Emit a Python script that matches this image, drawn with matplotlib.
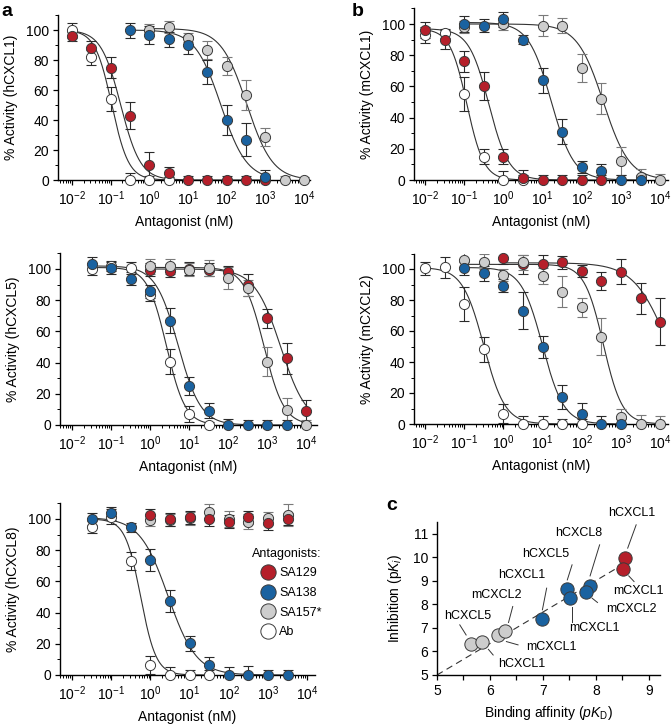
import numpy as np
import matplotlib
matplotlib.use('Agg')
import matplotlib.pyplot as plt
from matplotlib.lines import Line2D
from matplotlib.ticker import LogLocator, LogFormatterSciNotation, NullFormatter, MultipleLocator, FixedLocator

plt.rcParams['font.family'] = ['Liberation Sans', 'DejaVu Sans']
plt.rcParams['mathtext.fontset'] = 'custom'
plt.rcParams['mathtext.rm'] = 'Liberation Sans'
plt.rcParams['mathtext.it'] = 'Liberation Sans:italic'
plt.rcParams['mathtext.bf'] = 'Liberation Sans:bold'

# ---------------- DATA ----------------
antagonists = ['SA129', 'SA138', 'SA157*', 'Ab']

# Panel a (top): hCXCL1  -- log10 concentration (nM), % activity, error
hCXCL1_SA129_logx = [-2, -1.5, -1, -0.5, 0, 0.5, 1, 1.5, 2, 2.5, 3]
hCXCL1_SA129_y = [96, 88, 75, 43, 10, 5, 0, 0, 0, 0, 0]
hCXCL1_SA129_err = [3, 5, 7, 9, 9, 4, 3, 3, 3, 3, 3]
hCXCL1_SA138_logx = [-0.5, 0, 0.5, 1, 1.5, 2, 2.5, 3]
hCXCL1_SA138_y = [100, 97, 94, 90, 72, 40, 27, 2]
hCXCL1_SA138_err = [5, 6, 5, 6, 8, 10, 11, 5]
hCXCL1_SA157_logx = [0, 0.5, 1, 1.5, 2, 2.5, 3, 3.5, 4]
hCXCL1_SA157_y = [100, 102, 95, 87, 76, 57, 29, 0, 0]
hCXCL1_SA157_err = [4, 4, 3, 6, 6, 10, 6, 3, 2]
hCXCL1_Ab_logx = [-2, -1.5, -1, -0.5, 0, 0.5]
hCXCL1_Ab_y = [100, 82, 54, 0, 0, 0]
hCXCL1_Ab_err = [5, 5, 8, 5, 3, 2]
# fitted curve parameters (top, log IC50, Hill slope)
hCXCL1_fit = {'SA129': (100, -0.74, 1.7), 'SA138': (100, 1.85, 1.3),
              'SA157*': (101, 2.52, 1.3), 'Ab': (100, -0.97, 2.0)}

# Panel b (top): mCXCL1
mCXCL1_SA129_logx = [-2, -1.5, -1, -0.5, 0, 0.5, 1, 1.5, 2, 2.5]
mCXCL1_SA129_y = [96, 90, 76, 60, 15, 1.5, 0, 0, 0, 0]
mCXCL1_SA129_err = [5, 6, 7, 9, 5, 5, 3, 3, 3, 3]
mCXCL1_SA138_logx = [-1, -0.5, 0, 0.5, 1, 1.5, 2, 2.5, 3, 3.5]
mCXCL1_SA138_y = [100, 99, 103, 90, 64, 31, 8.5, 6, 0, 0]
mCXCL1_SA138_err = [5, 4, 5, 3, 8, 8, 4, 4, 3, 3]
mCXCL1_SA157_logx = [-1, 0, 1, 1.5, 2, 2.5, 3, 3.5, 4]
mCXCL1_SA157_y = [98, 100, 99, 99, 72, 52, 12, 2, 0]
mCXCL1_SA157_err = [4, 4, 7, 5, 9, 10, 9, 5, 4]
mCXCL1_Ab_logx = [-2, -1.5, -1, -0.5, 0, 0.5]
mCXCL1_Ab_y = [93, 94, 55, 15, 0, 0]
mCXCL1_Ab_err = [5, 3, 11, 5, 6, 3]
mCXCL1_fit = {'SA129': (97, -0.37, 1.7), 'SA138': (101, 1.22, 1.5),
              'SA157*': (100, 2.55, 1.3), 'Ab': (97, -0.93, 2.0)}

# Panel a (middle): hCXCL5
hCXCL5_SA129_logx = [0, 0.5, 1, 1.5, 2, 2.5, 3, 3.5, 4]
hCXCL5_SA129_y = [99.6, 99, 100.2, 99.6, 97.8, 90, 68.5, 42.8, 9.2]
hCXCL5_SA129_err = [4, 4, 4, 4, 4, 7, 6, 10, 7]
hCXCL5_SA138_logx = [-1.5, -1, -0.5, 0, 0.5, 1, 1.5, 2, 2.5, 3, 3.5]
hCXCL5_SA138_y = [103.4, 100.6, 93.8, 85.6, 66.8, 25, 9.2, 0, 0, 0, 0]
hCXCL5_SA138_err = [4, 4, 4, 4, 8, 6, 5, 4, 3, 3, 3]
hCXCL5_SA157_logx = [0, 0.5, 1, 1.5, 2, 2.5, 3, 3.5, 4]
hCXCL5_SA157_y = [101.7, 101.7, 99.6, 100.6, 94.2, 87.8, 40.7, 9.6, 0]
hCXCL5_SA157_err = [5, 5, 4, 5, 7, 5, 9, 8, 3]
hCXCL5_Ab_logx = [-1.5, -1, -0.5, 0, 0.5, 1, 1.5]
hCXCL5_Ab_y = [100, 102, 100.6, 83.5, 40.7, 7, 0]
hCXCL5_Ab_err = [4, 3, 4, 4, 8, 5, 2]
hCXCL5_fit = {'SA129': (100, 3.35, 1.3), 'SA138': (102, 0.72, 1.5),
              'SA157*': (101, 2.92, 1.7), 'Ab': (101, 0.42, 1.8)}

# Panel b (middle): mCXCL2
mCXCL2_SA129_logx = [0, 0.5, 1, 1.5, 2, 2.5, 3, 3.5, 4]
mCXCL2_SA129_y = [107, 103, 103, 104.3, 98.7, 92.3, 98.3, 81, 66]
mCXCL2_SA129_err = [4, 6, 6, 4, 4, 6, 8, 10, 15]
mCXCL2_SA138_logx = [-1, -0.5, 0, 0.5, 1, 1.5, 2, 2.5, 3]
mCXCL2_SA138_y = [100.4, 97.2, 89.3, 73, 49.6, 17.4, 6.7, 0, 0]
mCXCL2_SA138_err = [4, 5, 4, 12, 7, 8, 7, 5, 3]
mCXCL2_SA157_logx = [-1, -0.5, 0, 0.5, 1, 1.5, 2, 2.5, 3, 3.5, 4]
mCXCL2_SA157_y = [106, 104.7, 96, 104.3, 95.5, 85.4, 75.3, 56.4, 4.5, 0, 0]
mCXCL2_SA157_err = [5, 5, 4, 5, 5, 10, 6, 12, 5, 6, 5]
mCXCL2_Ab_logx = [-2, -1.5, -1, -0.5, 0, 0.5, 1, 1.5, 2]
mCXCL2_Ab_y = [100.4, 101, 77.3, 48.3, 6.7, 0, 0, 0, 0]
mCXCL2_Ab_err = [4, 7, 11, 8, 6, 5, 5, 3, 3]
mCXCL2_fit = {'SA129': (104, 4.2, 1.0), 'SA138': (101, 1.0, 1.6),
              'SA157*': (103, 2.55, 1.8), 'Ab': (101, -0.5, 1.6)}

# Panel a (bottom): hCXCL8
hCXCL8_SA129_logx = [0, 0.5, 1, 1.5, 2, 2.5, 3, 3.5]
hCXCL8_SA129_y = [102.6, 99.8, 101, 99.8, 98.3, 101, 97.2, 100]
hCXCL8_SA129_err = [4, 4, 4, 4, 4, 4, 4, 4]
hCXCL8_SA138_logx = [-1.5, -1, -0.5, 0, 0.5, 1, 1.5, 2, 2.5, 3, 3.5]
hCXCL8_SA138_y = [100, 103.6, 94.7, 73.7, 47.4, 20.3, 6.4, 0, 0, 0, 0]
hCXCL8_SA138_err = [4, 4, 3, 7, 7, 5, 5, 5, 6, 3, 3]
hCXCL8_SA157_logx = [0, 0.5, 1, 1.5, 2, 2.5, 3, 3.5]
hCXCL8_SA157_y = [99.4, 99.4, 100.4, 104.7, 100, 98.3, 100.4, 102.6]
hCXCL8_SA157_err = [4, 4, 4, 5, 5, 5, 4, 7]
hCXCL8_Ab_logx = [-1.5, -1, -0.5, 0, 0.5, 1, 1.5]
hCXCL8_Ab_y = [95, 101.5, 73, 6.4, 0, 0, 0]
hCXCL8_Ab_err = [4, 5, 6, 6, 5, 3, 3]
hCXCL8_fit = {'SA129': None, 'SA138': (101, 0.45, 1.2),
              'SA157*': None, 'Ab': (100, -0.25, 2.2)}

# Panel c: binding affinity vs inhibition
c_pKD = [5.65, 5.85, 6.16, 6.29, 6.99, 7.46, 7.52, 7.88, 7.82, 8.54, 8.52]
c_pKi = [6.30, 6.42, 6.70, 6.87, 7.37, 8.65, 8.25, 8.80, 8.52, 9.96, 9.50]
c_antagonist = ['SA157*'] * 4 + ['SA138'] * 5 + ['SA129'] * 2
c_labels = ['hCXCL5', 'hCXCL1', 'mCXCL1', 'mCXCL2', 'hCXCL1', 'hCXCL5',
            'mCXCL1', 'hCXCL8', 'mCXCL2', 'hCXCL1', 'mCXCL1']
c_line = [(5.0, 5.0), (8.5, 9.68)]

# ---------------- STYLE / LAYOUT ----------------
COLORS = {'SA129': '#B51F2A', 'SA138': '#1A62A0', 'SA157*': '#CDCDCD', 'Ab': '#FFFFFF'}
ECOL = {'SA129': '#2a2a2a', 'SA138': '#2a2a2a', 'SA157*': '#7a7a7a', 'Ab': '#2a2a2a'}
EDGE = '#3a3a3a'

# label text positions (data coords) and leader lines for panel c
c_text_pos = [(5.57, 7.51), (6.60, 5.45), (7.16, 6.20), (6.13, 8.40), (6.60, 9.26),
              (7.06, 10.15), (7.98, 6.98), (7.68, 11.03), (8.67, 7.80), (8.67, 11.88), (8.81, 8.57)]
c_leader = [((5.43, 7.13), (5.55, 6.70)), ((5.97, 6.09), (6.06, 5.85)),
            ((6.31, 6.42), (6.53, 6.28)), ((6.43, 7.91), (6.35, 7.23)),
            ((7.07, 8.69), (6.99, 7.77)), ((7.55, 9.68), (7.46, 9.04)),
            ((7.55, 7.91), (7.55, 7.27)), ((8.07, 10.53), (7.89, 9.21)),
            ((7.93, 8.26), (8.03, 8.08)), ((8.76, 11.38), (8.60, 10.39)),
            ((8.62, 9.21), (8.72, 8.97))]

W, H = 672, 725
fig = plt.figure(figsize=(W / 100, H / 100), dpi=100)


def add_ax(l, t, r, b):
    return fig.add_axes([l / W, 1 - b / H, (r - l) / W, (b - t) / H])


def hill(logx, top, logic50, h):
    return top / (1 + 10 ** (h * (logx - logic50)))


def series(prefix):
    g = globals()
    out = {}
    for name, key in [('SA129', 'SA129'), ('SA138', 'SA138'), ('SA157*', 'SA157'), ('Ab', 'Ab')]:
        out[name] = (g[f'{prefix}_{key}_logx'], g[f'{prefix}_{key}_y'], g[f'{prefix}_{key}_err'])
    return out


def style_axes(ax):
    for s in ['top', 'right']:
        ax.spines[s].set_visible(False)
    for s in ['left', 'bottom']:
        ax.spines[s].set_linewidth(1.0)
    ax.tick_params(which='major', direction='out', length=3.5, width=0.9, labelsize=10, pad=3)
    ax.tick_params(which='minor', direction='out', length=2, width=0.7)


def dose_panel(ax, prefix, fit, ylabel, xlim, order):
    data = series(prefix)
    for name in antagonists:
        p = fit[name]
        if p is None:
            continue
        lx = np.asarray(data[name][0], float)
        grid = np.linspace(lx.min(), lx.max(), 400)
        ax.plot(10 ** grid, hill(grid, *p), color='#333333', lw=0.8, zorder=2)
    for i, name in enumerate(order):
        lx, y, e = data[name]
        x = 10 ** np.asarray(lx, float)
        ax.errorbar(x, y, yerr=e, fmt='none', ecolor=ECOL[name], elinewidth=0.8,
                    capsize=3.6, capthick=0.8, zorder=3 + i * 0.1)
    for i, name in enumerate(order):
        lx, y, e = data[name]
        x = 10 ** np.asarray(lx, float)
        ax.plot(x, y, 'o', ms=7.3, mfc=COLORS[name], mec=EDGE, mew=0.7,
                zorder=5 + i, clip_on=False)
    ax.set_xscale('log')
    ax.set_xlim(10 ** xlim[0], 10 ** xlim[1])
    ax.set_ylim(0, 110)
    ax.xaxis.set_major_locator(FixedLocator([10.0 ** k for k in range(-2, 5)]))
    ax.xaxis.set_major_formatter(LogFormatterSciNotation())
    ax.xaxis.set_minor_locator(LogLocator(base=10, subs=np.arange(2, 10), numticks=30))
    ax.xaxis.set_minor_formatter(NullFormatter())
    ax.yaxis.set_major_locator(MultipleLocator(20))
    ax.yaxis.set_minor_locator(MultipleLocator(10))
    style_axes(ax)
    ax.set_ylabel(ylabel, fontsize=10, labelpad=6)
    ax.set_xlabel('Antagonist (nM)', fontsize=10, labelpad=5)


ax_a1 = add_ax(58, 15, 310, 180)
dose_panel(ax_a1, 'hCXCL1', hCXCL1_fit, '% Activity (hCXCL1)', (-2.362, 4.155),
           ['Ab', 'SA129', 'SA157*', 'SA138'])
ax_b1 = add_ax(414, 8.4, 668, 180)
dose_panel(ax_b1, 'mCXCL1', mCXCL1_fit, '% Activity (mCXCL1)', (-2.28, 4.2),
           ['Ab', 'SA157*', 'SA138', 'SA129'])
ax_a2 = add_ax(60, 253.4, 317, 425)
dose_panel(ax_a2, 'hCXCL5', hCXCL5_fit, '% Activity (hCXCL5)', (-2.31, 4.28),
           ['SA129', 'SA157*', 'Ab', 'SA138'])
ax_b2 = add_ax(414, 253.5, 668, 424)
dose_panel(ax_b2, 'mCXCL2', mCXCL2_fit, '% Activity (mCXCL2)', (-2.28, 4.2),
           ['SA129', 'SA157*', 'Ab', 'SA138'])
ax_a3 = add_ax(60, 503.4, 315, 675)
dose_panel(ax_a3, 'hCXCL8', hCXCL8_fit, '% Activity (hCXCL8)', (-2.31, 4.2),
           ['SA157*', 'SA129', 'Ab', 'SA138'])

handles = [Line2D([], [], ls='none', marker='o', ms=11, mfc=COLORS[n], mec=EDGE, mew=0.7)
           for n in antagonists]
leg = ax_a3.legend(handles, antagonists, title='Antagonists:', loc='upper left',
                   bbox_to_anchor=(252 / W, 1 - 548 / H), bbox_transform=fig.transFigure,
                   frameon=False, fontsize=9, title_fontsize=9, labelspacing=0.6,
                   handletextpad=0.25, handlelength=1.3, borderpad=0, borderaxespad=0)
leg._legend_box.align = 'right'

# Panel c
ax_c = add_ax(437, 522, 660, 675)
ax_c.plot([p[0] for p in c_line], [p[1] for p in c_line], color='#333333', lw=0.8,
          dashes=(6, 4), zorder=1)
for (x, y, a) in zip(c_pKD, c_pKi, c_antagonist):
    ax_c.scatter([x], [y], s=92, c=COLORS[a], edgecolors=EDGE, linewidths=0.7, zorder=3)
for lab, tp, ld in zip(c_labels, c_text_pos, c_leader):
    ax_c.text(tp[0], tp[1], lab, fontsize=9, ha='center', va='center', zorder=4)
    ax_c.plot([ld[0][0], ld[1][0]], [ld[0][1], ld[1][1]], color='#333333', lw=0.7,
              zorder=2, clip_on=False)
ax_c.set_xlim(5, 9.21)
ax_c.set_ylim(5, 11.5)
ax_c.xaxis.set_major_locator(MultipleLocator(1))
ax_c.xaxis.set_minor_locator(MultipleLocator(0.5))
ax_c.yaxis.set_major_locator(MultipleLocator(1))
style_axes(ax_c)
ax_c.tick_params(axis='x', which='minor', length=3.5, width=0.9)
ax_c.set_xlabel(r'Binding affinity ($pK_\mathrm{D}$)', fontsize=10, labelpad=4)
ax_c.set_ylabel(r'Inhibition (p$K_i$)', fontsize=10, labelpad=6)

# panel letters
fig.text(1 / W, 1 - 16 / H, 'a', fontsize=14, fontweight='bold', ha='left', va='baseline')
fig.text(352 / W, 1 - 16 / H, 'b', fontsize=14, fontweight='bold', ha='left', va='baseline')
fig.text(386 / W, 1 - 510 / H, 'c', fontsize=14, fontweight='bold', ha='left', va='baseline')

fig.savefig('out.png', dpi=100)
